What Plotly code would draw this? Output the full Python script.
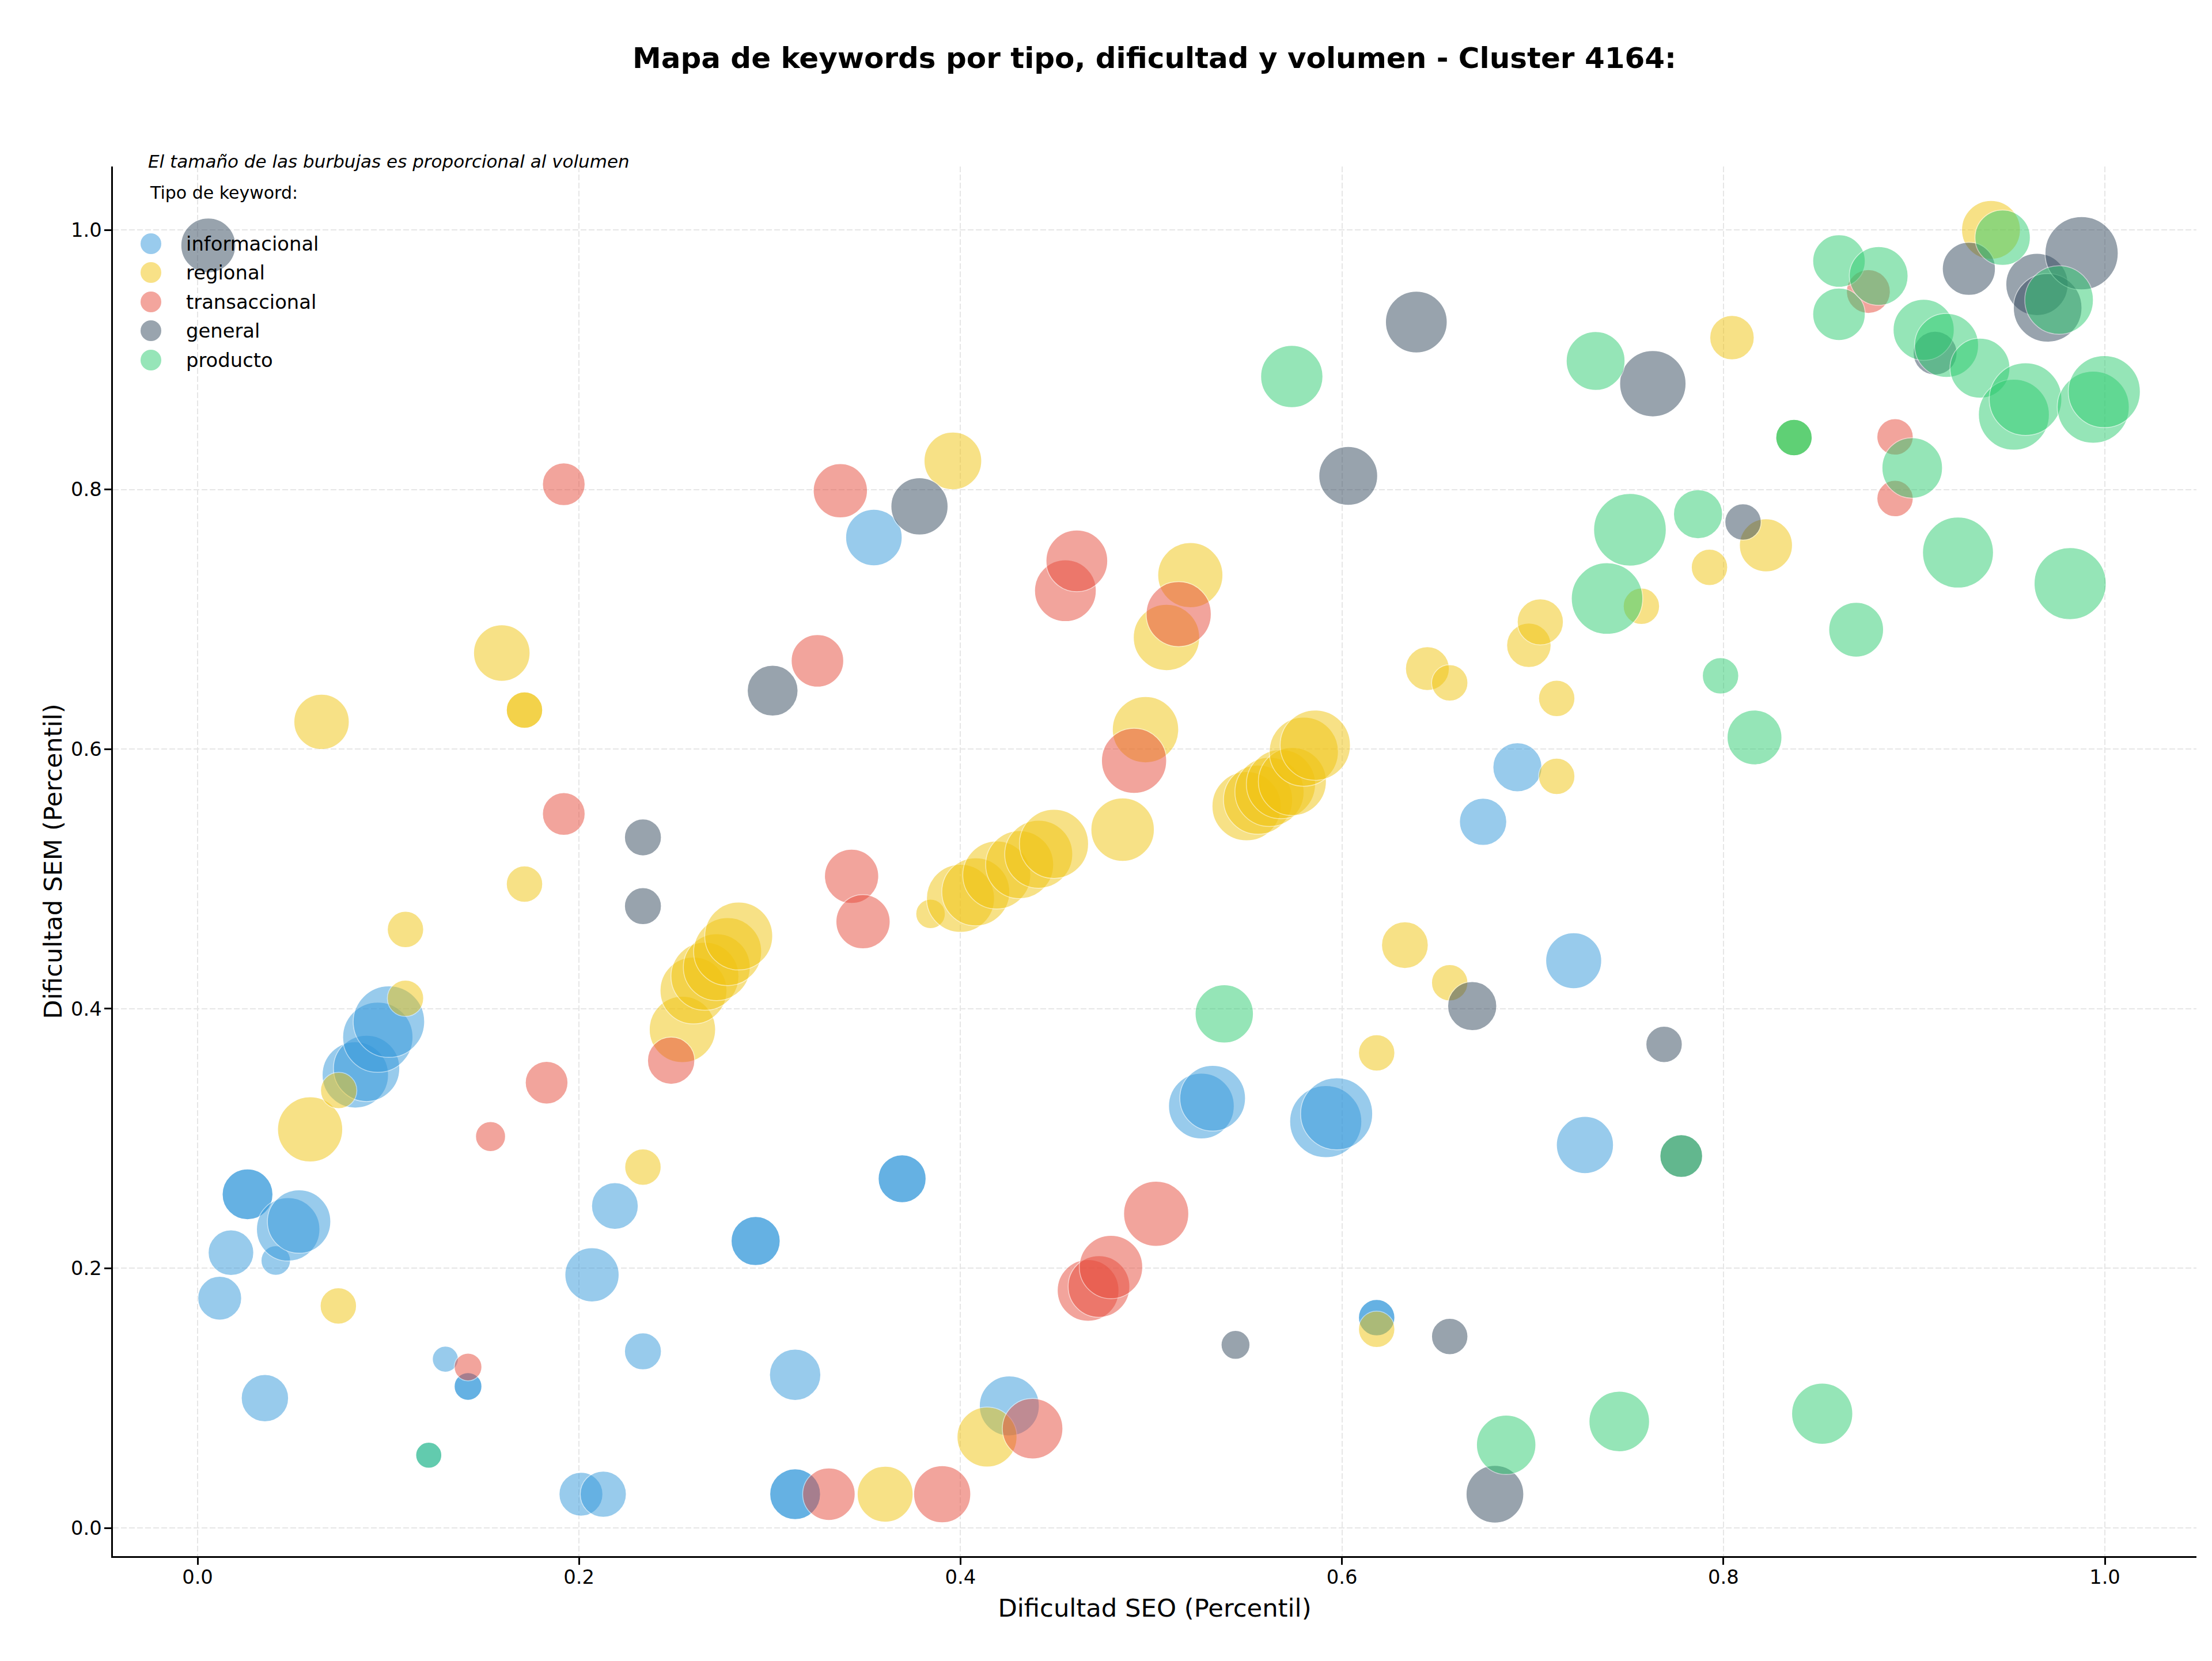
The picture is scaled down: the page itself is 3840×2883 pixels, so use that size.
import plotly.graph_objects as go

# ---------------- data ----------------
categorias = ["informacional", "regional", "transaccional", "general", "producto"]

info_x = [0.0116, 0.0353, 0.0175, 0.041, 0.0262, 0.0262, 0.0475, 0.0532, 0.0827, 0.0886,
          0.0945, 0.1003, 0.1299, 0.1418, 0.1418, 0.1212, 0.201, 0.2127, 0.2188, 0.2068,
          0.2335, 0.3546, 0.3694, 0.3694, 0.2926, 0.2926, 0.3133, 0.3133, 0.3133, 0.4256,
          0.5263, 0.5322, 0.5915, 0.5972, 0.6182, 0.6182, 0.674, 0.692, 0.7215, 0.7274]
info_y = [0.177, 0.100, 0.212, 0.206, 0.257, 0.257, 0.230, 0.236, 0.349, 0.354,
          0.378, 0.390, 0.130, 0.109, 0.109, 0.056, 0.026, 0.026, 0.248, 0.195,
          0.136, 0.763, 0.269, 0.269, 0.221, 0.221, 0.118, 0.026, 0.026, 0.094,
          0.325, 0.331, 0.313, 0.319, 0.162, 0.162, 0.544, 0.586, 0.437, 0.295]
info_vol = [361, 420, 390, 163, 484, 484, 756, 756, 827, 827,
            930, 961, 127, 144, 144, 127, 361, 400, 410, 552,
            256, 600, 431, 431, 452, 452, 495, 484, 484, 676,
            812, 812, 977, 977, 248, 248, 420, 452, 588, 613]

reg_x = [0.059, 0.065, 0.074, 0.0738, 0.109, 0.109, 0.1595, 0.1714, 0.1714, 0.1714,
         0.2335, 0.2542, 0.260, 0.266, 0.2722, 0.2779, 0.2837, 0.3605, 0.3843, 0.396,
         0.400, 0.408, 0.419, 0.431, 0.441, 0.449, 0.4139, 0.485, 0.497, 0.508,
         0.5205, 0.550, 0.556, 0.562, 0.568, 0.574, 0.580, 0.586, 0.6182, 0.6182,
         0.633, 0.6565, 0.6448, 0.6565, 0.698, 0.704, 0.7126, 0.7126, 0.757, 0.7927,
         0.8045, 0.8223, 0.9403, 0.837]
reg_y = [0.307, 0.621, 0.337, 0.171, 0.461, 0.408, 0.674, 0.630, 0.630, 0.496,
         0.278, 0.384, 0.414, 0.425, 0.432, 0.444, 0.456, 0.026, 0.473, 0.822,
         0.485, 0.490, 0.503, 0.511, 0.519, 0.527, 0.070, 0.538, 0.615, 0.686,
         0.734, 0.556, 0.561, 0.567, 0.573, 0.575, 0.598, 0.603, 0.366, 0.153,
         0.449, 0.420, 0.662, 0.651, 0.680, 0.698, 0.639, 0.579, 0.710, 0.740,
         0.917, 0.757, 1.000, 0.840]
reg_vol = [798, 576, 248, 248, 248, 248, 600, 248, 248, 248,
           248, 827, 841, 870, 841, 870, 870, 588, 163, 625,
           870, 870, 870, 870, 870, 900, 676, 756, 827, 827,
           798, 900, 900, 900, 900, 870, 900, 930, 248, 248,
           410, 248, 361, 248, 371, 400, 248, 248, 248, 248,
           371, 529, 650, 248]

tra_x = [0.1536, 0.1418, 0.183, 0.192, 0.192, 0.2483, 0.325, 0.337, 0.3429, 0.3489,
         0.331, 0.3904, 0.4378, 0.455, 0.461, 0.4669, 0.4726, 0.4789, 0.491, 0.5026,
         0.5144, 0.876, 0.890, 0.890]
tra_y = [0.3015, 0.124, 0.343, 0.804, 0.550, 0.360, 0.668, 0.799, 0.502, 0.467,
         0.026, 0.026, 0.0765, 0.722, 0.745, 0.183, 0.186, 0.201, 0.591, 0.242,
         0.704, 0.9525, 0.8405, 0.793]
tra_vol = [169, 144, 342, 342, 342, 420, 518, 552, 552, 552,
           518, 613, 689, 716, 716, 716, 716, 756, 798, 798,
           798, 361, 248, 248]

gen_x = [0.0056, 0.2335, 0.2335, 0.3015, 0.3785, 0.5442, 0.6033, 0.639, 0.6565, 0.6683,
         0.6802, 0.763, 0.7689, 0.7779, 0.8103, 0.911, 0.9287, 0.9644, 0.970, 0.9878]
gen_y = [0.988, 0.532, 0.479, 0.645, 0.787, 0.141, 0.8105, 0.929, 0.1475, 0.402,
         0.026, 0.8815, 0.3725, 0.2865, 0.775, 0.905, 0.970, 0.958, 0.940, 0.982]
gen_vol = [564, 256, 256, 484, 613, 156, 650, 716, 248, 452,
           625, 827, 248, 342, 248, 361, 529, 729, 885, 1008]

pro_x = [0.1212, 0.5383, 0.5737, 0.6861, 0.733, 0.739, 0.7454, 0.751, 0.7779, 0.7867,
         0.7985, 0.8163, 0.837, 0.837, 0.8518, 0.8606, 0.8606, 0.8696, 0.8814, 0.899,
         0.905, 0.917, 0.923, 0.9345, 0.9464, 0.9523, 0.9584, 0.976, 0.9818, 0.9939,
         0.9997]
pro_y = [0.056, 0.396, 0.887, 0.064, 0.899, 0.716, 0.082, 0.769, 0.2865, 0.781,
         0.6565, 0.609, 0.840, 0.840, 0.088, 0.976, 0.935, 0.692, 0.9645, 0.8166,
         0.923, 0.911, 0.7514, 0.8935, 0.994, 0.8576, 0.8696, 0.946, 0.7275, 0.8634,
         0.8754]
pro_vol = [127, 638, 729, 663, 650, 961, 689, 992, 342, 452,
           248, 564, 248, 248, 702, 518, 518, 564, 650, 689,
           702, 770, 946, 676, 576, 946, 992, 885, 977, 977,
           977]

x_ticks = [0.0, 0.2, 0.4, 0.6, 0.8, 1.0]
y_ticks = [0.0, 0.2, 0.4, 0.6, 0.8, 1.0]

# ---------------- style ----------------
colores = ["#3498db", "#f1c40f", "#e74c3c", "#34495e", "#2ecc71"]
W, H = 3840, 2883
ML, MR, MT, MB = 196, 27, 289, 182
PW, PH = W - ML - MR, H - MT - MB
FONT = "DejaVu Sans"
MAX_D = 127.0  # px diameter of the largest bubble


def px(X):
    return (X - ML) / PW


def py(Y):
    return (H - MB - Y) / PH


series = [
    (categorias[0], colores[0], info_x, info_y, info_vol),
    (categorias[1], colores[1], reg_x, reg_y, reg_vol),
    (categorias[2], colores[2], tra_x, tra_y, tra_vol),
    (categorias[3], colores[3], gen_x, gen_y, gen_vol),
    (categorias[4], colores[4], pro_x, pro_y, pro_vol),
]
vmax = max(max(s[4]) for s in series)
sizeref = 2.0 * vmax / (MAX_D ** 2)

fig = go.Figure()
for name, col, xs, ys, vs in series:
    fig.add_trace(go.Scatter(
        x=xs, y=ys, mode="markers", name=name, showlegend=False,
        marker=dict(size=vs, sizemode="area", sizeref=sizeref, color=col,
                    opacity=0.5, line=dict(color="white", width=1.5)),
        cliponaxis=True,
    ))

shapes = []
annotations = []
# custom legend (matplotlib-like, no frame)
leg_y = [423, 473, 524, 574, 625]
for (name, col, *_), yy in zip(series, leg_y):
    shapes.append(dict(type="circle", xref="paper", yref="paper",
                       xsizemode="pixel", ysizemode="pixel",
                       xanchor=px(262), yanchor=py(yy),
                       x0=-18, x1=18, y0=-18, y1=18,
                       fillcolor=col, opacity=0.5, line=dict(width=0), layer="above"))
    annotations.append(dict(text=name, xref="paper", yref="paper", x=px(321), y=py(yy),
                            xanchor="left", yanchor="middle", showarrow=False,
                            font=dict(family=FONT, size=33.8, color="black")))
annotations.append(dict(text="Tipo de keyword:", xref="paper", yref="paper",
                        x=px(258), y=py(335), xanchor="left", yanchor="middle",
                        showarrow=False, font=dict(family=FONT, size=30, color="black")))
annotations.append(dict(text="El tamaño de las burbujas es proporcional al volumen",
                        xref="paper", yref="paper", x=px(255), y=py(280),
                        xanchor="left", yanchor="middle", showarrow=False,
                        font=dict(family=FONT, size=31, color="black", style="italic")))

axis_common = dict(
    showline=True, linecolor="black", linewidth=2.67, mirror=False,
    ticks="outside", ticklen=11.7, tickwidth=2.67, tickcolor="black",
    tickfont=dict(family=FONT, size=33.8, color="black"),
    showgrid=True, gridcolor="#e6e6e6", gridwidth=2, griddash="10px,4px",
    zeroline=False, tickformat=".1f",
)

fig.update_layout(
    width=W, height=H,
    margin=dict(l=ML, r=MR, t=MT, b=MB, pad=0),
    paper_bgcolor="white", plot_bgcolor="white",
    showlegend=False,
    title=dict(text="<b>Mapa de keywords por tipo, dificultad y volumen - Cluster 4164:</b>",
               x=2004 / W, xanchor="center", xref="container",
               y=1 - 100 / H, yanchor="middle", yref="container",
               font=dict(family=FONT, size=50, color="black")),
    xaxis=dict(range=[-147 / 3311, (3813 - 343) / 3311], tickvals=x_ticks,
               title=dict(text="Dificultad SEO (Percentil)", standoff=20,
                          font=dict(family=FONT, size=43.3, color="black")),
               ticklabelstandoff=-7, **axis_common),
    yaxis=dict(range=[(2652 - 2701) / 2253, (2652 - 289) / 2253], tickvals=y_ticks,
               title=dict(text="Dificultad SEM (Percentil)", standoff=2,
                          font=dict(family=FONT, size=43.3, color="black")),
               ticklabelstandoff=-2, **axis_common),
    shapes=shapes, annotations=annotations,
)

fig.write_html("out.html")
